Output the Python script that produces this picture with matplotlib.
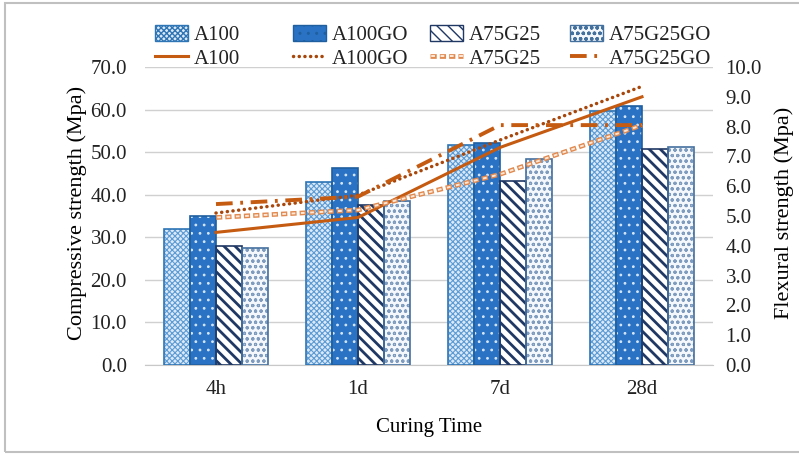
import matplotlib
matplotlib.use("Agg")
import matplotlib.pyplot as plt
import numpy as np
from matplotlib.legend_handler import HandlerTuple
from matplotlib.lines import Line2D
from matplotlib.patches import Patch, Rectangle

plt.rcParams["font.family"] = ["Liberation Serif", "DejaVu Serif"]
plt.rcParams["text.color"] = "#222222"
plt.rcParams["lines.scale_dashes"] = False

# data
categories = ["4h", "1d", "7d", "28d"]
series = ["A100", "A100GO", "A75G25", "A75G25GO"]

comp_A100 = [32.0, 43.0, 51.7, 59.7]
comp_A100GO = [35.0, 46.2, 52.2, 60.8]
comp_A75G25 = [27.9, 37.6, 43.2, 50.8]
comp_A75G25GO = [27.6, 38.5, 48.4, 51.1]

flex_A100 = [4.45, 4.95, 7.3, 9.0]
flex_A100GO = [5.1, 5.7, 7.55, 9.35]
flex_A75G25 = [4.95, 5.2, 6.4, 8.05]
flex_A75G25GO = [5.4, 5.65, 8.05, 8.05]

left_ticks = [0, 10, 20, 30, 40, 50, 60, 70]
right_ticks = [0, 1, 2, 3, 4, 5, 6, 7, 8, 9, 10]

# styles
bar_styles = [
    dict(face="#dce9f6", hatch="xxxxxx", hcolor="#5b9bd5", edge="#2e75b6", hlw=0.8),
    dict(face="#2a72c4", hatch="..", hcolor="#d4e6f8", edge="#1f5f9f", hlw=0.8),
    dict(face="white", hatch="\\\\\\", hcolor="#1f3864", edge="#1f3864", hlw=2.0),
    dict(face="#f4f8fc", hatch="ooo", hcolor="#7f9cbf", edge="#44709e", hlw=0.8),
]
ORANGE = "#c55a11"

fig = plt.figure(figsize=(7.99, 4.55), dpi=100)
ax = fig.add_axes([145 / 799, 1 - 365 / 455, 568 / 799, 298 / 455])
ax2 = ax.twinx()

x = np.arange(len(categories))
w = 26 / 142
comp = [comp_A100, comp_A100GO, comp_A75G25, comp_A75G25GO]
bar_handles = []
for i, (vals, st) in enumerate(zip(comp, bar_styles)):
    pos = x + (i - 1.5) * w
    ax.bar(pos, vals, w, color=st["face"], edgecolor="none", zorder=2)
    with plt.rc_context({"hatch.linewidth": st["hlw"]}):
        ax.bar(pos, vals, w, color="none", edgecolor=st["hcolor"],
               hatch=st["hatch"], linewidth=0, zorder=3)
        bar_handles.append(Patch(facecolor=st["face"], edgecolor=st["edge"],
                                 hatch=st["hatch"], linewidth=1.0))
    ax.bar(pos, vals, w, color="none", edgecolor=st["edge"], linewidth=1.2, zorder=4)

# line styles (dash lengths in points)
solid_kw = dict(color=ORANGE, lw=2.2, linestyle="-")
dotted_kw = dict(color="#a8470c", lw=2.5, linestyle=(0, (0.1, 4.0)),
                 dash_capstyle="round")
ring_outer_kw = dict(color="#e08a50", lw=3.4, linestyle=(0, (4.5, 2.2)),
                     dash_capstyle="butt")
ring_inner_kw = dict(color="#fde8d8", lw=1.4, linestyle=(5.8, (2.7, 4.0)),
                     dash_capstyle="butt")
dashdot_kw = dict(color=ORANGE, lw=2.8, linestyle=(0, (12, 5.5, 2, 5.5)))

ax2.plot(x, flex_A100, zorder=5, **solid_kw)
ax2.plot(x, flex_A100GO, zorder=5, **dotted_kw)
ax2.plot(x, flex_A75G25, zorder=5, **ring_outer_kw)
ax2.plot(x, flex_A75G25, zorder=6, **ring_inner_kw)
ax2.plot(x, flex_A75G25GO, zorder=5, **dashdot_kw)

line_handles = [
    Line2D([], [], **solid_kw),
    Line2D([], [], **dotted_kw),
    (Line2D([], [], **ring_outer_kw), Line2D([], [], **ring_inner_kw)),
    Line2D([], [], **dashdot_kw),
]

ax.set_xlim(-0.5, 3.5)
ax.set_ylim(0, 70)
ax2.set_ylim(0, 10)
ax.set_yticks(left_ticks)
ax2.set_yticks(right_ticks)
ax.set_yticklabels([f"{v:.1f}" for v in left_ticks])
ax2.set_yticklabels([f"{v:.1f}" for v in right_ticks])
ax.set_xticks(x)
ax.set_xticklabels(categories)

ax.grid(axis="y", color="#d0d0d0", linewidth=1.0, zorder=0)
ax.set_axisbelow(True)
for a in (ax, ax2):
    for s in a.spines.values():
        s.set_visible(False)
ax.spines["bottom"].set_visible(True)
ax.spines["bottom"].set_color("#c8c8c8")
ax.tick_params(axis="both", length=0, labelsize=15, colors="#222222")
ax.tick_params(axis="y", pad=13)
ax.tick_params(axis="x", pad=11)
ax2.tick_params(axis="y", length=0, labelsize=15, colors="#222222", pad=9)

ax.set_ylabel("Compressive strength (Mpa)", fontsize=16)
ax.yaxis.set_label_coords(-0.102, 0.51)
ax2.set_ylabel("Flexural strength (Mpa)", fontsize=16)
ax2.yaxis.set_label_coords(1.108, 0.51)
ax.set_xlabel("Curing Time", fontsize=15)
ax.xaxis.set_label_coords(0.5, -0.178)

# legend: one small legend per series (bar on top, line below)
legend_x = [155, 293, 430, 570]
for bx, bh, lh, name in zip(legend_x, bar_handles, line_handles, series):
    fig.legend([bh, lh], [name, name], loc="upper left",
               bbox_to_anchor=(bx / 799, 1 - 25 / 455), frameon=False,
               fontsize=15, handlelength=1.6, handleheight=0.8,
               handletextpad=0.25, labelspacing=0.15, borderpad=0,
               borderaxespad=0,
               handler_map={tuple: HandlerTuple(ndivide=1, pad=0)})

fig.patches.append(Rectangle((5 / 799, 3 / 455), 1.2, 1 - 6 / 455,
                             transform=fig.transFigure, fill=False,
                             edgecolor="#c0c0c0", linewidth=1.5))

fig.savefig("out.png", dpi=100)
